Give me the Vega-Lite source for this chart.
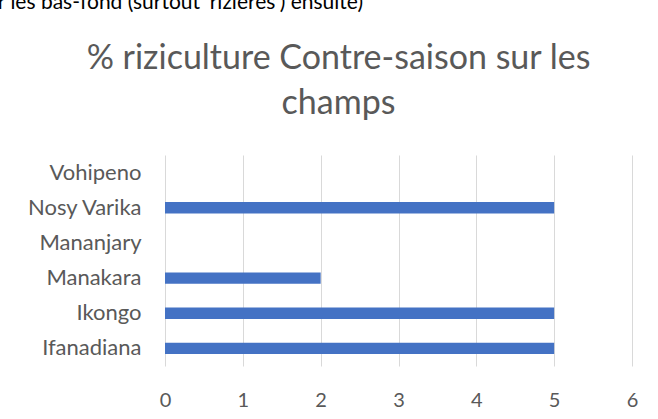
{
  "$schema": "https://vega.github.io/schema/vega-lite/v6.json",
  "width": 467,
  "height": 211,
  "autosize": {"type": "none"},
  "padding": {"left": 165, "top": 155, "right": 26, "bottom": 53},
  "background": "white",
  "title": {
    "text": "r les bas-fond (surtout 'rizières') ensuite)",
    "font": "Lato",
    "fontSize": 21,
    "fontWeight": "normal",
    "color": "#000000",
    "anchor": "end",
    "frame": "group",
    "dx": -269,
    "dy": -11,
    "baseline": "alphabetic",
    "offset": 0
  },
  "data": {
    "values": [
      {"district": "Vohipeno", "value": 0},
      {"district": "Nosy Varika", "value": 5},
      {"district": "Mananjary", "value": 0},
      {"district": "Manakara", "value": 2},
      {"district": "Ikongo", "value": 5},
      {"district": "Ifanadiana", "value": 5}
    ]
  },
  "mark": {"type": "bar", "color": "#4472C4"},
  "encoding": {
    "y": {
      "field": "district",
      "type": "nominal",
      "sort": null,
      "scale": {"paddingInner": 0.68, "paddingOuter": 0.34},
      "axis": {
        "title": ["% riziculture Contre-saison sur les", "champs"],
        "titleAngle": 0,
        "titleAlign": "center",
        "titleBaseline": "alphabetic",
        "titleX": 173,
        "titleY": -87,
        "titleFont": "Lato",
        "titleFontSize": 34,
        "titleLineHeight": 45,
        "titleFontWeight": "normal",
        "titleColor": "#595959",
        "ticks": false,
        "domain": false,
        "labelFont": "Lato",
        "labelFontSize": 22,
        "labelColor": "#595959",
        "labelPadding": 24
      }
    },
    "x": {
      "field": "value",
      "type": "quantitative",
      "scale": {"domain": [0, 6]},
      "axis": {
        "title": null,
        "values": [0, 1, 2, 3, 4, 5, 6],
        "ticks": false,
        "domain": false,
        "grid": true,
        "gridColor": "#d9d9d9",
        "gridWidth": 1,
        "labelFont": "Lato",
        "labelFontSize": 20,
        "labelColor": "#595959",
        "labelPadding": 24,
        "labelFlush": false
      }
    }
  },
  "config": {"view": {"stroke": null}}
}
